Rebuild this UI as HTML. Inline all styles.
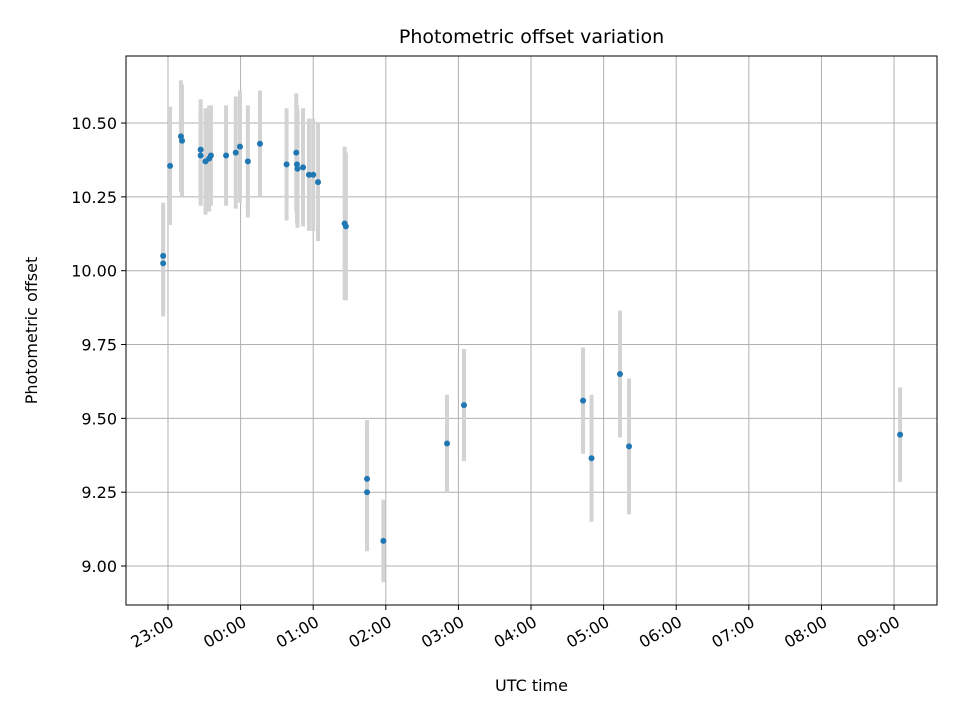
<!DOCTYPE html>
<html><head><meta charset="utf-8"><style>
body{margin:0;background:#fff}
svg{display:block;font-family:"DejaVu Sans","Liberation Sans",sans-serif}
</style></head><body>
<svg id="chart" width="960" height="720"></svg>
<script>
const minutesSince2300=[-4,-4,1.7,10.7,11.6,27,27,31,34,35.5,48,56,59.5,66,76,98,106,106.6,107,111.6,116.5,120,124,146,147,164.5,164.5,178,230.6,244.6,343,350,373.5,381,605];
const offsets=[10.05,10.025,10.355,10.455,10.44,10.41,10.39,10.37,10.38,10.39,10.39,10.40,10.42,10.37,10.43,10.36,10.40,10.36,10.345,10.35,10.325,10.325,10.30,10.16,10.15,9.295,9.25,9.085,9.415,9.545,9.56,9.365,9.65,9.405,9.445];
const errors=[0.18,0.18,0.2,0.19,0.19,0.17,0.17,0.18,0.18,0.17,0.17,0.19,0.19,0.19,0.18,0.19,0.2,0.2,0.2,0.2,0.19,0.19,0.2,0.26,0.25,0.2,0.2,0.14,0.165,0.19,0.18,0.215,0.215,0.23,0.16];
const xTickLabels=["23:00","00:00","01:00","02:00","03:00","04:00","05:00","06:00","07:00","08:00","09:00"];
const yTicks=[9.00,9.25,9.50,9.75,10.00,10.25,10.50];

const L=126,R=937,T=56,B=605;
const xMin=-34.7,xMax=635.5,yMin=8.868,yMax=10.727;
const sx=m=>L+(m-xMin)/(xMax-xMin)*(R-L);
const sy=v=>B-(v-yMin)/(yMax-yMin)*(B-T);
const svg=document.getElementById('chart');
const NS='http://www.w3.org/2000/svg';
function mk(tag,attrs,parent){const e=document.createElementNS(NS,tag);for(const k in attrs)e.setAttribute(k,attrs[k]);(parent||svg).appendChild(e);return e;}

xTickLabels.forEach((lab,i)=>{
  const x=sx(i*60);
  const g=mk('line',{x1:x,x2:x,y1:T,y2:B,stroke:'#b0b0b0','stroke-width':1});
  
  
  const t=mk('line',{x1:x,x2:x,y1:B,y2:B+5,stroke:'#000','stroke-width':1});
  
  
  const ax=x+4, ay=B+21;
  const tx=mk('text',{x:ax,y:ay,'font-size':16,'text-anchor':'end',transform:`rotate(-30 ${ax} ${ay-6})`});
  tx.textContent=lab;
  
  
});
yTicks.forEach(v=>{
  const y=sy(v);
  const g=mk('line',{x1:L,x2:R,y1:y,y2:y,stroke:'#b0b0b0','stroke-width':1});
  
  
  const t=mk('line',{x1:L-5,x2:L,y1:y,y2:y,stroke:'#000','stroke-width':1});
  
  
  const tx=mk('text',{x:L-9,y:y+6,'font-size':16,'text-anchor':'end'});
  tx.textContent=v.toFixed(2);
  
  
});
minutesSince2300.forEach((m,i)=>{
  const x=sx(m);
  const e=mk('line',{x1:x,x2:x,y1:sy(offsets[i]-errors[i]),y2:sy(offsets[i]+errors[i]),stroke:'#d3d3d3','stroke-width':4});
  
  
});
minutesSince2300.forEach((m,i)=>{
  const p=mk('circle',{cx:sx(m),cy:sy(offsets[i]),r:3,fill:'#1f77b4'});
  
  
});
const fr=mk('rect',{x:L,y:T,width:R-L,height:B-T,fill:'none',stroke:'#000','stroke-width':1});


const ti=mk('text',{x:(L+R)/2,y:43,'font-size':19,'text-anchor':'middle'});
ti.textContent='Photometric offset variation';


const xl=mk('text',{x:(L+R)/2,y:691,'font-size':16,'text-anchor':'middle'});
xl.textContent='UTC time';


const yl=mk('text',{x:37,y:(T+B)/2,'font-size':16,'text-anchor':'middle',transform:`rotate(-90 37 ${(T+B)/2})`});
yl.textContent='Photometric offset';


</script>
</body></html>
